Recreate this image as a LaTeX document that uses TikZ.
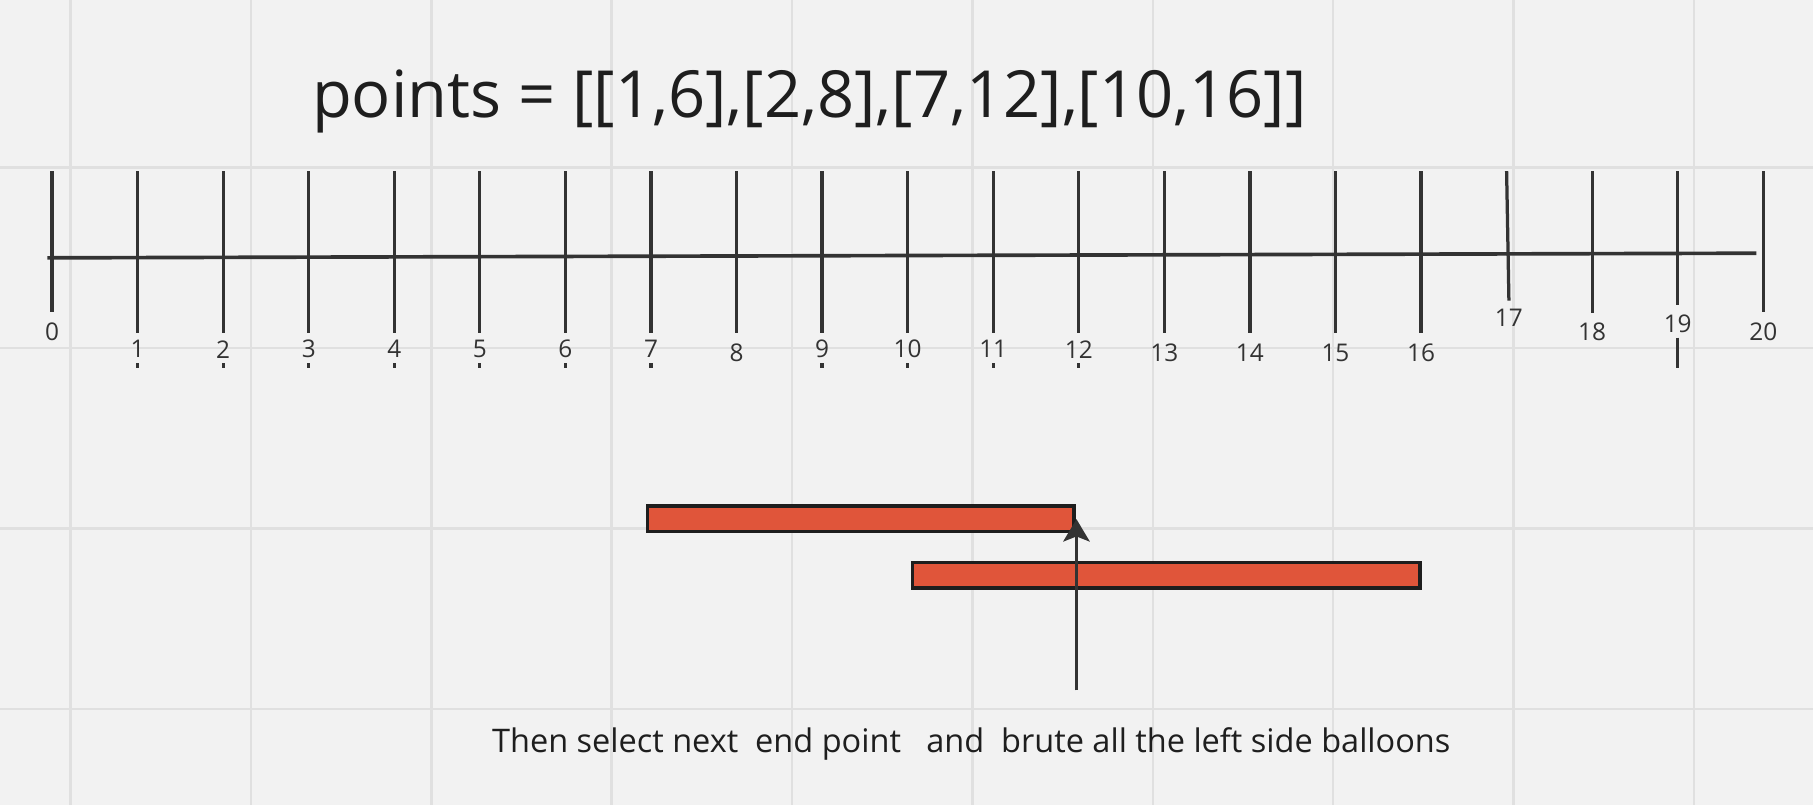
\documentclass[tikz,border=0pt]{standalone}
\usepackage{fontspec}
\setmainfont{Open Sans}
\usetikzlibrary{arrows.meta}
\definecolor{paper}{HTML}{F2F2F2}
\definecolor{gridgray}{HTML}{E0E0E0}
\definecolor{ink}{HTML}{333333}
\definecolor{balloonred}{HTML}{E0553A}
\definecolor{textblack}{HTML}{1E1E1E}
\begin{document}
\begin{tikzpicture}[x=0.02cm,y=-0.02cm,
                    gridline/.style={draw=gridgray,line width=1.2pt},
                    axis/.style={draw=ink,line width=1.8pt},
                    tick/.style={draw=ink,line width=1.6pt},
                    num/.style={text=ink,font=\fontsize{12}{14}\selectfont,inner sep=0pt},
                    balloon/.style={rectangle,fill=balloonred,draw=textblack,line width=1.7pt,inner sep=0pt}
                   ]
  \fill[paper] (0,0) rectangle (1568,696);
  \useasboundingbox (0,0) rectangle (1568,696);
  \path[gridline] (61,0) -- (61,696) (217,0) -- (217,696) (373,0) -- (373,696)
    (529,0) -- (529,696) (685,0) -- (685,696) (841,0) -- (841,696)
    (997,0) -- (997,696) (1153,0) -- (1153,696) (1309,0) -- (1309,696)
    (1465,0) -- (1465,696)
    (0,145) -- (1568,145) (0,301) -- (1568,301) (0,457) -- (1568,457)
    (0,613) -- (1568,613);

  \node[text=textblack,font=\fontsize{32}{38}\selectfont,anchor=base] (title) at (700,102)
    {points = [[1,6],[2,8],[7,12],[10,16]]};

  % number line
  \coordinate (start) at (41,223);
  \coordinate (stop) at (1519,219);
  \draw[axis] (start) -- (stop);

  \draw[tick] (45,148) -- (45,270);
  \draw[tick] (119,148) -- (119,288) (119,314) -- (119,318);
  \draw[tick] (193,148) -- (193,288) (193,314) -- (193,318);
  \draw[tick] (267,148) -- (267,288) (267,314) -- (267,318);
  \draw[tick] (341,148) -- (341,288) (341,314) -- (341,318);
  \draw[tick] (415,148) -- (415,288) (415,314) -- (415,318);
  \draw[tick] (489,148) -- (489,288) (489,314) -- (489,318);
  \draw[tick] (563,148) -- (563,288) (563,314) -- (563,318);
  \draw[tick] (637,148) -- (637,288);
  \draw[tick] (711,148) -- (711,288) (711,314) -- (711,318);
  \draw[tick] (785,148) -- (785,288) (785,314) -- (785,318);
  \draw[tick] (859,148) -- (859,288) (859,314) -- (859,318);
  \draw[tick] (933,148) -- (933,288) (933,314) -- (933,318);
  \draw[tick] (1007,148) -- (1007,288);
  \draw[tick] (1081,148) -- (1081,288);
  \draw[tick] (1155,148) -- (1155,288);
  \draw[tick] (1229,148) -- (1229,288);
  \draw[tick] (1303,148) -- (1305,260);
  \draw[tick] (1377,148) -- (1377,271);
  \draw[tick] (1451,148) -- (1451,264) (1451,292) -- (1451,318);
  \draw[tick] (1525,148) -- (1525,270);

  \node[num] (n0) at (45,287) {0};
  \node[num] (n1) at (119,302) {1};
  \node[num] (n2) at (193,302) {2};
  \node[num] (n3) at (267,302) {3};
  \node[num] (n4) at (341,302) {4};
  \node[num] (n5) at (415,302) {5};
  \node[num] (n6) at (489,302) {6};
  \node[num] (n7) at (563,302) {7};
  \node[num] (n8) at (637,305) {8};
  \node[num] (n9) at (711,302) {9};
  \node[num] (n10) at (785,302) {10};
  \node[num] (n11) at (859,302) {11};
  \node[num] (n12) at (933,302) {12};
  \node[num] (n13) at (1007,305) {13};
  \node[num] (n14) at (1081,305) {14};
  \node[num] (n15) at (1155,305) {15};
  \node[num] (n16) at (1229,305) {16};
  \node[num] (n17) at (1305,275) {17};
  \node[num] (n18) at (1377,287) {18};
  \node[num] (n19) at (1451,280) {19};
  \node[num] (n20) at (1525,287) {20};

  % balloons
  \node[balloon,minimum width=7.38cm,minimum height=0.44cm] (b1) at (744.5,448.5) {};
  \node[balloon,minimum width=8.78cm,minimum height=0.44cm] (b2) at (1008.5,497.5) {};

  \coordinate (pick) at (931,597);
  \coordinate (tip) at (931,449);
  \draw[draw=ink,line width=1.6pt,-{Stealth[length=11pt,width=13pt,inset=2.5pt]}] (pick) -- (tip);

  \node[text=textblack,font=\fontsize{16}{19}\selectfont,anchor=base] (note) at (840,651)
    {Then select next\ \ end point\ \ \ and\ \ brute all the left side balloons};
\end{tikzpicture}
\end{document}
